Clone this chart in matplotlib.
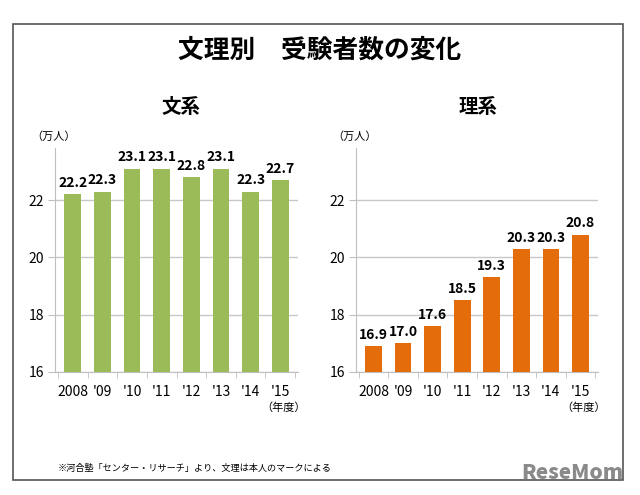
import matplotlib
matplotlib.use("Agg")
import matplotlib.pyplot as plt
from matplotlib.patches import Rectangle

plt.rcParams['font.family'] = ['Noto Sans CJK JP', 'DejaVu Sans']

years = ['2008', "'09", "'10", "'11", "'12", "'13", "'14", "'15"]
bunkei = [22.2, 22.3, 23.1, 23.1, 22.8, 23.1, 22.3, 22.7]
rikei = [16.9, 17.0, 17.6, 18.5, 19.3, 20.3, 20.3, 20.8]
yticks = [16, 18, 20, 22]

title = '文理別　受験者数の変化'
sub_left = '文系'
sub_right = '理系'
unit = '（万人）'
nendo = '（年度）'
note = '※河合塾「センター・リサーチ」より、文理は本人のマークによる'

W, H = 640, 495
fig = plt.figure(figsize=(6.4, 4.95), dpi=100)
fig.patch.set_facecolor('white')

def fx(px):
    return px / W

def fy(py):
    return 1 - py / H

# frame
fig.patches.append(Rectangle((fx(13), fy(480)), fx(623) - fx(13), fy(24) - fy(480),
                             transform=fig.transFigure, fill=False,
                             edgecolor='#555555', linewidth=1.2))

fig.text(0.5, fy(50), title, ha='center', va='center', fontsize=18.5, fontweight='bold')

def make_axes(x0, x1, values, color, sub, subx):
    ax = fig.add_axes([fx(x0), fy(372), fx(x1) - fx(x0), fy(148) - fy(372)])
    xs = range(len(years))
    bars = ax.bar(xs, values, width=0.56, color=color, zorder=3)
    ax.set_ylim(16, 23.82)
    ax.set_xlim(-0.6, len(years) - 0.4)
    ax.set_yticks(yticks)
    ax.set_xticks(list(xs))
    ax.set_xticklabels(years, fontsize=10)
    ax.tick_params(axis='x', length=0, pad=9)
    ax.tick_params(axis='y', length=5, color='#bfbfbf', labelsize=10, pad=3)
    ax.set_xticks([i - 0.5 for i in range(len(years) + 1)], minor=True)
    ax.tick_params(axis='x', which='minor', length=4, color='#bfbfbf')
    ax.grid(axis='y', color='#c8c8c8', linewidth=1, zorder=0)
    for s in ['top', 'right']:
        ax.spines[s].set_visible(False)
    for s in ['left', 'bottom']:
        ax.spines[s].set_color('#bfbfbf')
    for b, v in zip(bars, values):
        ax.annotate(f'{v:.1f}', (b.get_x() + b.get_width() / 2, v),
                    xytext=(0, 3), textcoords='offset points',
                    ha='center', va='bottom', fontsize=10, fontweight='bold')
    fig.text(fx(subx), fy(107), sub, ha='center', va='center', fontsize=14, fontweight='bold')
    fig.text(fx(x0 - 24), fy(137), unit, ha='left', va='center', fontsize=8)
    fig.text(fx(x1 + 8), fy(408), nendo, ha='right', va='center', fontsize=8)
    return ax

make_axes(55, 298, bunkei, '#9BBB59', sub_left, 181)
make_axes(356, 598, rikei, '#E46C0A', sub_right, 478)

fig.text(fx(58), fy(468), note, ha='left', va='center', fontsize=6.6)
fig.text(fx(623), fy(483), 'ReseMom', ha='right', va='bottom', fontsize=15,
         fontweight='heavy', color='#8a8a8a')

fig.savefig('out.png', dpi=100)
